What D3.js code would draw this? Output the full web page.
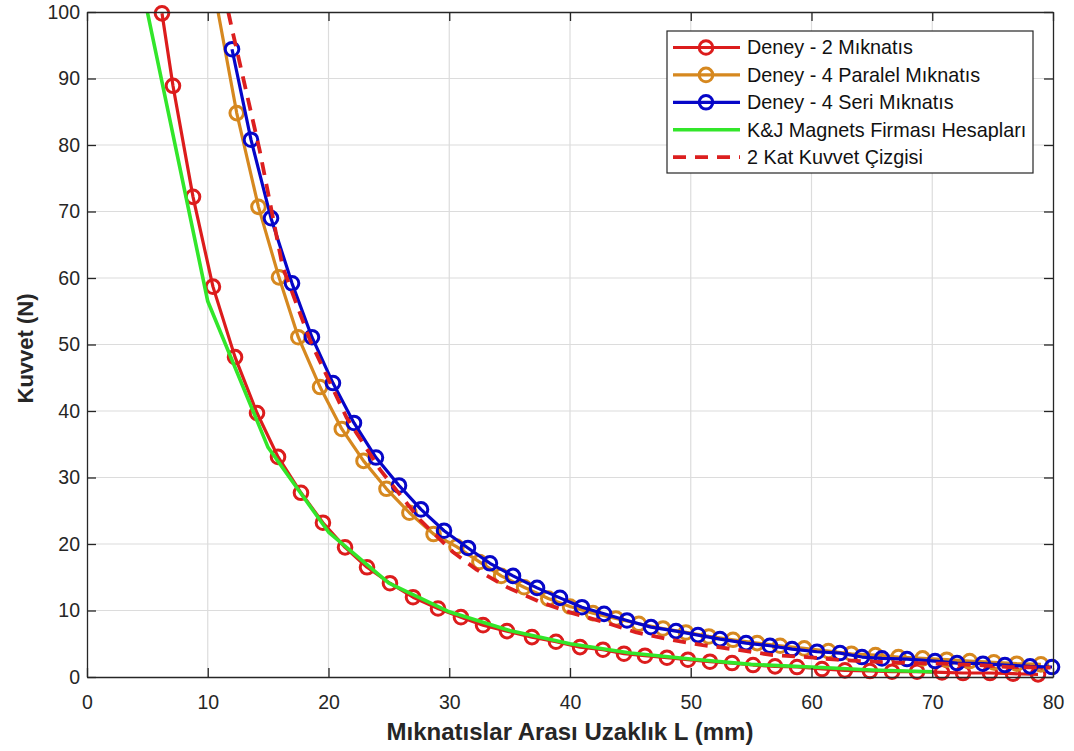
<!DOCTYPE html>
<html><head><meta charset="utf-8">
<script src="https://cdn.jsdelivr.net/npm/d3@7"></script>
<style>
html,body{margin:0;padding:0;background:#fff;}
svg{display:block;font-family:"Liberation Sans",Arial,sans-serif;}
</style></head>
<body>
<svg id="chart" width="1074" height="751"></svg>
<script>
// ---- data ----
const xTicks = [0,10,20,30,40,50,60,70,80];
const yTicks = [0,10,20,30,40,50,60,70,80,90,100];
const seriesNames = ["Deney - 2 Mıknatıs","Deney - 4 Paralel Mıknatıs","Deney - 4 Seri Mıknatıs","K&J Magnets Firması Hesapları","2 Kat Kuvvet Çizgisi"];

const redX = [6.21,7.12,8.78,10.43,12.26,14.08,15.82,17.72,19.54,21.37,23.19,25.09,27.0,29.07,30.97,32.80,34.78,36.85,38.84,40.83,42.73,44.47,46.21,48.03,49.77,51.59,53.42,55.16,56.98,58.80,60.87,62.77,64.84,66.67,68.74,70.81,72.55,74.78,76.69,78.76];
const redY = [99.8,88.9,72.2,58.7,48.1,39.7,33.1,27.7,23.2,19.5,16.5,14.1,12.0,10.3,9.0,7.8,6.9,6.0,5.3,4.5,4.1,3.5,3.2,2.9,2.6,2.3,2.1,1.8,1.6,1.5,1.2,1.0,0.9,0.8,0.8,0.7,0.6,0.6,0.5,0.4];

const orangeX = [10.6,12.4,14.2,15.9,17.5,19.3,21.1,22.9,24.8,26.7,28.7,30.6,32.5,34.3,36.2,38.2,40.0,41.9,43.8,45.7,47.7,49.6,51.5,53.5,55.5,57.4,59.4,61.4,63.3,65.3,67.2,69.2,71.2,73.1,75.1,77.0,79.0];
const orangeY = [102.5,84.8,70.7,60.1,51.1,43.6,37.3,32.5,28.3,24.7,21.5,19.6,17.3,15.2,13.5,11.8,10.6,9.6,8.8,8.0,7.3,6.7,6.1,5.6,5.1,4.7,4.3,3.9,3.5,3.3,3.0,2.8,2.6,2.4,2.2,2.0,1.9];

const blueX = [12.01,13.58,15.24,16.98,18.63,20.37,22.11,23.93,25.84,27.66,29.57,31.55,33.37,35.28,37.27,39.17,40.99,42.82,44.72,46.71,48.78,50.60,52.42,54.58,56.56,58.39,60.46,62.36,64.18,65.84,67.91,70.23,72.05,74.20,76.02,78.10,79.92];
const blueY = [94.4,80.8,69.0,59.2,51.1,44.2,38.2,33.0,28.8,25.2,22.0,19.4,17.1,15.2,13.4,11.9,10.5,9.5,8.5,7.5,6.9,6.3,5.7,5.1,4.7,4.2,3.8,3.6,3.0,2.8,2.7,2.4,2.1,2.0,1.8,1.6,1.5];

const greenX = [5,10,15,20,25,30,35,40,45,50,55,60,65,70];
const greenY = [100,56.5,34.5,21.8,14.1,9.8,7.0,5.0,3.6,2.7,1.9,1.5,1.05,0.8];

const dashX = [11.7,12.0,14.3,16.2,18.5,21.5,24.3,27.6,30.3,32.3,34.8,37.5,40.2,43.1,45.5,48.3,51.0,53.8,56.8,59.6,62.1,65.1,68.0,70.9,73.7,76.4,79.8];
const dashY = [100,97.5,79.2,61.7,50.5,39,31.1,23.6,18.8,16.1,13.5,11.3,9.6,8.1,6.7,5.6,4.8,4.1,3.3,3.0,2.6,2.3,2.1,2.0,1.8,1.5,1.4];

const colors = ["#dc1c1c","#d6881f","#0606c8","#32e62a","#dc1f1f"];

// ---- layout ----
const svg = d3.select("#chart");
const L=87, R=1053, T=12, B=677;
const x = d3.scaleLinear().domain([0,80]).range([L,R]);
const y = d3.scaleLinear().domain([0,100]).range([B,T]);
const axisColor = "#262626";

svg.append("defs").append("clipPath").attr("id","clip")
  .append("rect").attr("x",L).attr("y",T).attr("width",R-L).attr("height",B-T);

// grid
const grid = svg.append("g");
grid.selectAll(".gx").data(xTicks.slice(1,-1)).join("line")
  .attr("x1",d=>x(d)).attr("x2",d=>x(d)).attr("y1",T).attr("y2",B)
  .attr("stroke","#dcdcdc").attr("stroke-width",1.2);
grid.selectAll(".gy").data(yTicks.slice(1,-1)).join("line")
  .attr("y1",d=>y(d)).attr("y2",d=>y(d)).attr("x1",L).attr("x2",R)
  .attr("stroke","#dcdcdc").attr("stroke-width",1.2);

// series
const mk = (xs,ys)=>xs.map((v,i)=>({x:v,y:ys[i]}));
const series = [
  {data:mk(redX,redY), color:colors[0], markers:true, dash:null, w:3.2},
  {data:mk(orangeX,orangeY), color:colors[1], markers:true, dash:null, w:3.2},
  {data:mk(blueX,blueY), color:colors[2], markers:true, dash:null, w:3.2},
  {data:mk(greenX,greenY), color:colors[3], markers:false, dash:null, w:3.6},
  {data:mk(dashX,dashY), color:colors[4], markers:false, dash:"13,9", w:3.8}
];
const line = d3.line().x(d=>x(d.x)).y(d=>y(d.y));
series.forEach(s=>{
  svg.append("path").attr("d",line(s.data)).attr("clip-path","url(#clip)")
    .attr("fill","none").attr("stroke",s.color).attr("stroke-width",s.w)
    .attr("stroke-dasharray",s.dash).attr("stroke-linejoin","round");
  if(s.markers){
    svg.append("g").selectAll("circle").data(s.data.filter(d=>d.y<=100)).join("circle")
      .attr("cx",d=>x(d.x)).attr("cy",d=>y(d.y)).attr("r",6.8)
      .attr("fill","none").attr("stroke",s.color).attr("stroke-width",3);
  }
});

// axes (ticks inward on all 4 sides)
const fs = 19.5;
const axB = svg.append("g").attr("transform",`translate(0,${B})`)
  .call(d3.axisBottom(x).tickValues(xTicks).tickSizeInner(-9).tickSizeOuter(0).tickPadding(18));
const axT = svg.append("g").attr("transform",`translate(0,${T})`)
  .call(d3.axisTop(x).tickValues(xTicks).tickSizeInner(-9).tickSizeOuter(0).tickFormat(""));
const axL = svg.append("g").attr("transform",`translate(${L},0)`)
  .call(d3.axisLeft(y).tickValues(yTicks).tickSizeInner(-9).tickSizeOuter(0).tickPadding(7));
const axR = svg.append("g").attr("transform",`translate(${R},0)`)
  .call(d3.axisRight(y).tickValues(yTicks).tickSizeInner(-9).tickSizeOuter(0).tickFormat(""));
[axB,axT,axL,axR].forEach(a=>{
  a.select(".domain").attr("stroke",axisColor).attr("stroke-width",1.3);
  a.selectAll(".tick line").attr("stroke",axisColor).attr("stroke-width",1.3);
  a.selectAll(".tick text").attr("fill",axisColor).style("font-size",fs+"px")
    .style("font-family","'Liberation Sans',Arial,sans-serif");
});

// axis labels
svg.append("text").attr("x",(L+R)/2).attr("y",740).attr("text-anchor","middle")
  .attr("fill",axisColor).style("font-size","24px").style("font-weight","bold")
  .text("Mıknatıslar Arası Uzaklık L (mm)");
svg.append("text").attr("transform",`translate(33,${(T+B)/2+4}) rotate(-90)`)
  .attr("text-anchor","middle").attr("fill",axisColor)
  .style("font-size","22px").style("font-weight","bold").text("Kuvvet (N)");

// legend
const lg = svg.append("g");
lg.append("rect").attr("x",667).attr("y",31).attr("width",366).attr("height",142)
  .attr("fill","#fff").attr("stroke",axisColor).attr("stroke-width",1.2);
series.forEach((s,i)=>{
  const cy = 47.5 + i*27.4;
  lg.append("line").attr("x1",673).attr("x2",740).attr("y1",cy).attr("y2",cy)
    .attr("stroke",s.color).attr("stroke-width",s.w).attr("stroke-dasharray",s.dash);
  if(s.markers) lg.append("circle").attr("cx",706).attr("cy",cy).attr("r",6.8)
    .attr("fill","none").attr("stroke",s.color).attr("stroke-width",3);
  lg.append("text").attr("x",747).attr("y",cy).attr("dy","0.35em")
    .attr("fill","#111").style("font-size","19.8px").text(seriesNames[i]);
});
</script>
</body></html>
